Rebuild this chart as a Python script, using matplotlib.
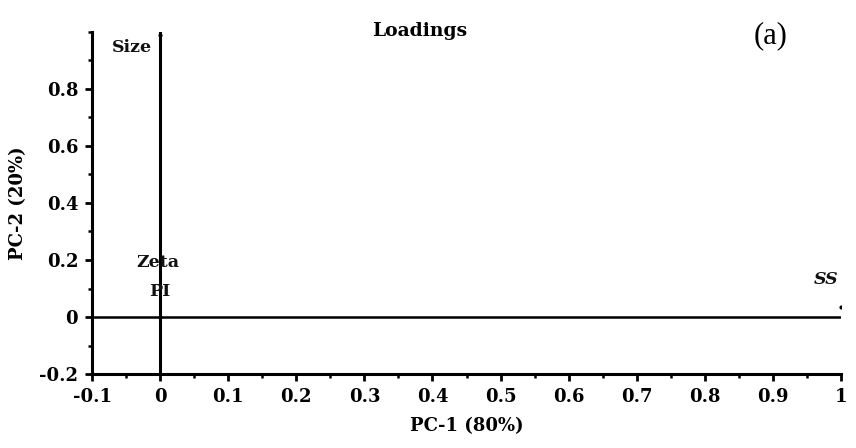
import numpy as np
import matplotlib.pyplot as plt
from matplotlib.ticker import MultipleLocator

########## INPUTS ########
## PCA loadings per variable
variables = ["Size", "Zeta", "PI", "SS"]
pc1 = [0.0, 0.0, 0.0, 1.0]
pc2 = [0.99, 0.0, 0.0, 0.035]

## label anchors (data units) for each variable
label_x = [-0.041, -0.003, 0.0, 0.978]
label_y = [0.944, 0.19, 0.09, 0.13]

x_ticks = [-0.1, 0, 0.1, 0.2, 0.3, 0.4, 0.5, 0.6, 0.7, 0.8, 0.9, 1]
y_ticks = [-0.2, 0, 0.2, 0.4, 0.6, 0.8]
###### END INPUTS ########

plt.rcParams["font.family"] = ["DejaVu Serif"]

fig = plt.figure(figsize=(8.56, 4.48), dpi=100)
ax = fig.add_axes([0.1075, 0.165, 0.875, 0.764])

## zero lines through the origin
ax.plot([0, 0], [-0.2, 1.0], color="black", lw=2.2, zorder=2)
ax.plot([-0.1, 1.0], [0, 0], color="black", lw=1.8, zorder=2)

ax.scatter(pc1, pc2, s=4, color="black", zorder=3)
for name, lx, ly in zip(variables, label_x, label_y):
    ax.text(lx, ly, name, ha="center", va="center", fontsize=12.5,
            fontweight="bold", color="#111111",
            style="italic" if name == "SS" else "normal")

ax.set_xlim(-0.1, 1.0)
ax.set_ylim(-0.2, 1.0)
ax.set_xticks(x_ticks)
ax.set_xticklabels(["-0.1", "0", "0.1", "0.2", "0.3", "0.4", "0.5", "0.6",
                    "0.7", "0.8", "0.9", "1"])
ax.set_yticks(y_ticks)
ax.set_yticklabels(["-0.2", "0", "0.2", "0.4", "0.6", "0.8"])
ax.xaxis.set_minor_locator(MultipleLocator(0.05))
ax.yaxis.set_minor_locator(MultipleLocator(0.1))

for side in ["top", "right"]:
    ax.spines[side].set_visible(False)
for side in ["left", "bottom"]:
    ax.spines[side].set_linewidth(2.2)
ax.tick_params(which="major", direction="out", length=5, width=2,
               labelsize=13, pad=5)
ax.tick_params(which="minor", direction="out", length=3, width=1.8)
for lab in ax.get_xticklabels() + ax.get_yticklabels():
    lab.set_fontweight("bold")

ax.set_xlabel("PC-1 (80%)", fontsize=13, fontweight="bold", labelpad=8)
ax.set_ylabel("PC-2 (20%)", fontsize=13, fontweight="bold", labelpad=9)

fig.text(0.49, 0.93, "Loadings", ha="center", va="center", fontsize=13.5,
         fontweight="bold")
fig.text(0.90, 0.92, "(a)", ha="center", va="center", fontsize=22,
         family="Liberation Serif")

plt.savefig("out.png", dpi=100)
